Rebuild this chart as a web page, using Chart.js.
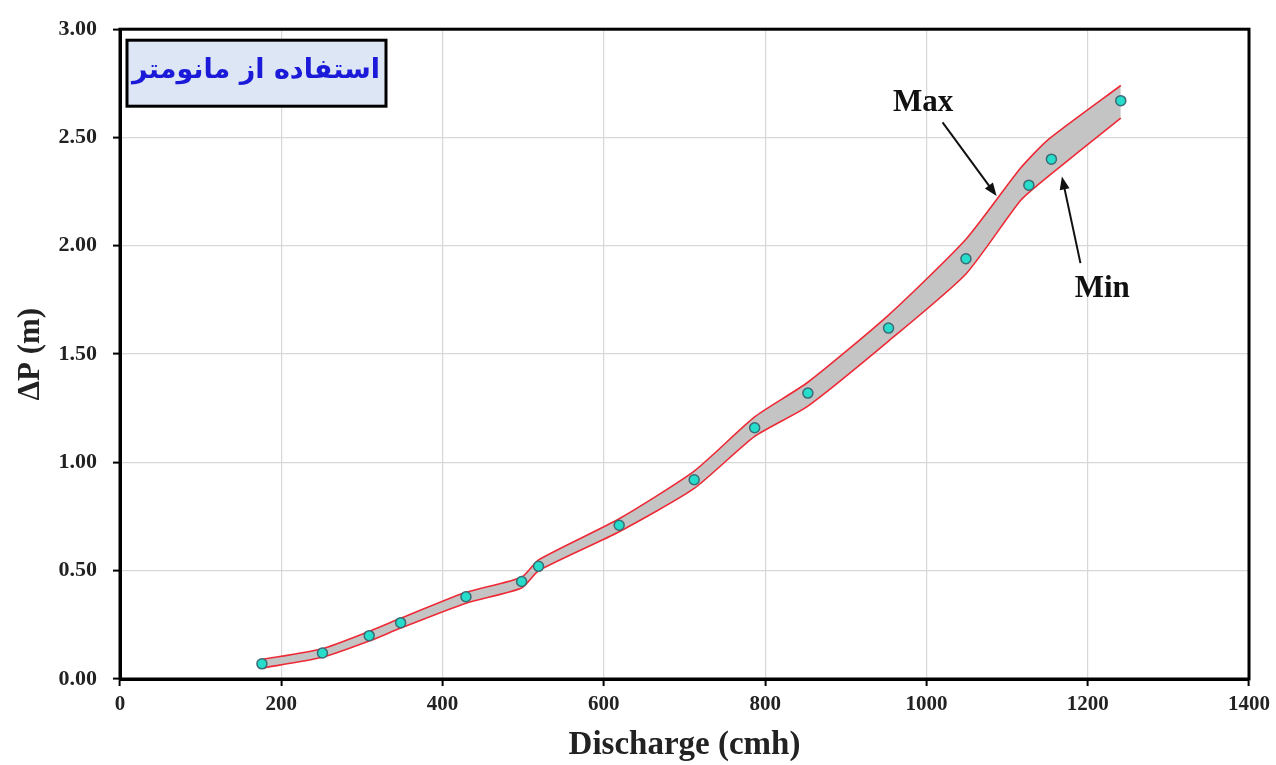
<!DOCTYPE html>
<html>
<head>
<meta charset="utf-8">
<script src="https://cdn.jsdelivr.net/npm/chart.js@4.4.0/dist/chart.umd.min.js"></script>
<style>
  html, body { margin: 0; padding: 0; background: #fff; }
  #wrap { width: 1276px; height: 765px; }
</style>
</head>
<body>
<div id="wrap"><canvas id="grafik" width="1276" height="765"></canvas></div>
<script>
// measured points
const discharge = [176, 251, 309, 348, 429, 498, 519, 619, 712, 787, 853, 953, 1049, 1127, 1155, 1241];
const deltaP = [0.07, 0.12, 0.20, 0.26, 0.38, 0.45, 0.52, 0.71, 0.92, 1.16, 1.32, 1.62, 1.94, 2.28, 2.40, 2.67];

// envelope (Max / Min)
const envX = [176, 251, 309, 348, 429, 498, 519, 619, 712, 787, 853, 953, 1049, 1117, 1151, 1241];
const maxP = [0.09, 0.14, 0.22, 0.28, 0.40, 0.47, 0.55, 0.74, 0.96, 1.21, 1.37, 1.68, 2.03, 2.36, 2.49, 2.74];
const minP = [0.05, 0.10, 0.175, 0.235, 0.35, 0.42, 0.50, 0.68, 0.88, 1.12, 1.26, 1.56, 1.87, 2.21, 2.32, 2.59];

const xTicks = [0, 200, 400, 600, 800, 1000, 1200, 1400];
const yTicks = [0, 0.5, 1, 1.5, 2, 2.5, 3];

const titleText = 'استفاده از مانومتر';
// annotation anchors in data units
const maxLabel = { text: 'Max', x: 996, y: 2.66, from: [1020, 2.57], to: [1087, 2.23] };
const minLabel = { text: 'Min', x: 1218, y: 1.80, from: [1191, 1.92], to: [1168, 2.32] };

const serif = '"Liberation Serif", "Times New Roman", serif';

function toXY(arr, ys) {
    return arr.map((x, i) => ({ x: x, y: ys[i] }));
}

function arrow(ctx, x1, y1, x2, y2) {
    const a = Math.atan2(y2 - y1, x2 - x1);
    const len = 13, w = 5;
    ctx.beginPath();
    ctx.moveTo(x1, y1);
    ctx.lineTo(x2 - Math.cos(a) * len * 0.8, y2 - Math.sin(a) * len * 0.8);
    ctx.stroke();
    ctx.beginPath();
    ctx.moveTo(x2, y2);
    ctx.lineTo(x2 - Math.cos(a) * len + Math.sin(a) * w, y2 - Math.sin(a) * len - Math.cos(a) * w);
    ctx.lineTo(x2 - Math.cos(a) * len - Math.sin(a) * w, y2 - Math.sin(a) * len + Math.cos(a) * w);
    ctx.closePath();
    ctx.fill();
}

const extras = {
    id: 'extras',
    afterDraw(chart) {
        const ctx = chart.ctx;
        const a = chart.chartArea;
        const xs = chart.scales.x, ys = chart.scales.y;
        ctx.save();
        // frame
        ctx.strokeStyle = '#000';
        ctx.lineWidth = 3;
        ctx.strokeRect(a.left, a.top, a.right - a.left, a.bottom - a.top);

        // title box
        ctx.fillStyle = '#dce6f4';
        ctx.fillRect(a.left + 7, a.top + 11, 259, 66);
        ctx.lineWidth = 3;
        ctx.strokeRect(a.left + 7, a.top + 11, 259, 66);
        ctx.fillStyle = '#1a1ad8';
        ctx.font = 'bold 27px "DejaVu Sans", sans-serif';
        ctx.textAlign = 'center';
        ctx.textBaseline = 'middle';
        ctx.direction = 'rtl';
        ctx.fillText(titleText, a.left + 7 + 129, a.top + 11 + 31);
        ctx.direction = 'ltr';

        // Max / Min labels with arrows
        ctx.fillStyle = '#111';
        ctx.strokeStyle = '#111';
        ctx.lineWidth = 2;
        ctx.font = 'bold 31px ' + serif;
        [maxLabel, minLabel].forEach(l => {
            ctx.fillText(l.text, xs.getPixelForValue(l.x), ys.getPixelForValue(l.y));
            arrow(ctx,
                xs.getPixelForValue(l.from[0]), ys.getPixelForValue(l.from[1]),
                xs.getPixelForValue(l.to[0]), ys.getPixelForValue(l.to[1]));
        });
        ctx.restore();
    }
};

new Chart(document.getElementById('grafik'), {
    type: 'scatter',
    data: {
        datasets: [
            {
                label: 'Max',
                data: toXY(envX, maxP),
                showLine: true,
                borderColor: '#ee2a36',
                borderWidth: 1.6,
                backgroundColor: '#c4c4c4',
                fill: '+1',
                pointRadius: 0,
                tension: 0.2,
                order: 2
            },
            {
                label: 'Min',
                data: toXY(envX, minP),
                showLine: true,
                borderColor: '#ee2a36',
                borderWidth: 1.6,
                fill: false,
                pointRadius: 0,
                tension: 0.2,
                order: 1
            },
            {
                label: 'Measured',
                data: toXY(discharge, deltaP),
                showLine: false,
                pointRadius: 5,
                pointBackgroundColor: '#26dccb',
                pointBorderColor: '#3b6b74',
                pointBorderWidth: 1.5,
                order: 0
            }
        ]
    },
    options: {
        responsive: false,
        animation: false,
        layout: { padding: { top: 27, right: 27, left: 0, bottom: 0 } },
        plugins: {
            legend: { display: false },
            tooltip: { enabled: false }
        },
        scales: {
            x: {
                type: 'linear',
                min: 0, max: 1400,
                afterBuildTicks: s => { s.ticks = xTicks.map(v => ({ value: v })); },
                afterFit: s => { s.height = 86; },
                grid: { color: '#d8d8d8', lineWidth: 1.2, tickLength: 7, tickColor: '#000', tickWidth: 2 },
                border: { color: '#000', width: 3 },
                ticks: {
                    color: '#222',
                    padding: 6,
                    font: { family: serif, size: 21, weight: 'bold' },
                    callback: v => String(v)
                },
                title: {
                    display: true,
                    text: 'Discharge (cmh)',
                    color: '#222',
                    padding: { top: 0, bottom: 0 },
                    font: { family: serif, size: 33, weight: 'bold' }
                }
            },
            y: {
                type: 'linear',
                min: 0, max: 3,
                afterBuildTicks: s => { s.ticks = yTicks.map(v => ({ value: v })); },
                afterFit: s => { s.width = 120; },
                grid: { color: '#d8d8d8', lineWidth: 1.2, tickLength: 7, tickColor: '#000', tickWidth: 2 },
                border: { color: '#000', width: 3 },
                ticks: {
                    color: '#222',
                    padding: 16,
                    font: { family: serif, size: 22, weight: 'bold' },
                    callback: v => v.toFixed(2)
                },
                title: {
                    display: true,
                    text: 'ΔP (m)',
                    color: '#222',
                    padding: { top: 12, bottom: 0 },
                    font: { family: serif, size: 31, weight: 'bold' }
                }
            }
        }
    },
    plugins: [extras]
});
</script>
</body>
</html>
